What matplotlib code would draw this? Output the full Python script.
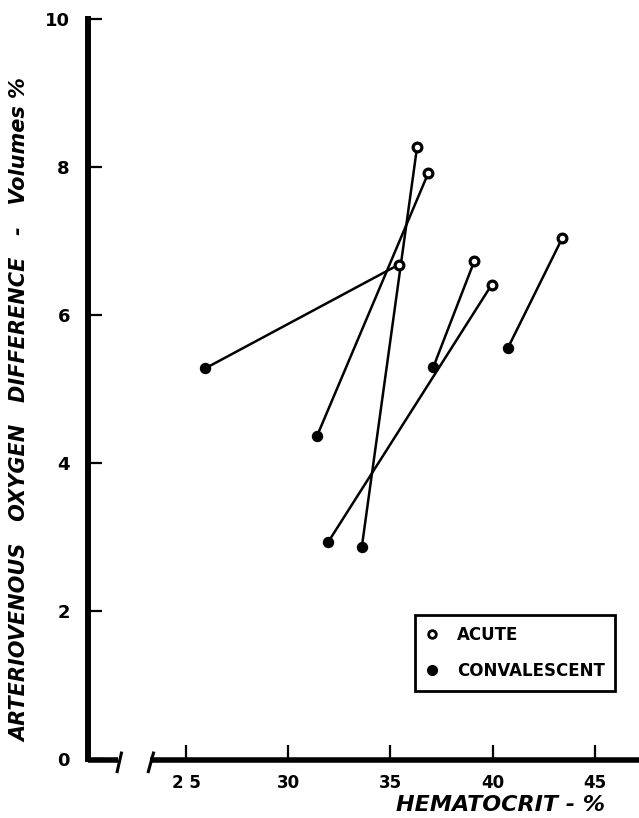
import matplotlib
matplotlib.use('Agg')
import matplotlib.pyplot as plt
from matplotlib.lines import Line2D

# --- datos (un paciente por posicion) ---
acute_hct = [36.3, 36.85, 35.4, 39.1, 39.95, 43.4]
acute_avo2 = [8.27, 7.92, 6.68, 6.73, 6.41, 7.04]
conv_hct = [33.6, 31.4, 25.95, 37.1, 31.95, 40.75]
conv_avo2 = [2.87, 4.36, 5.28, 5.30, 2.93, 5.56]

x_ticks = [25, 30, 35, 40, 45]
y_ticks = [0, 2, 4, 6, 8, 10]

plt.rcParams['font.family'] = ['DejaVu Sans']

fig = plt.figure(figsize=(6.39, 8.18), dpi=100)
ax = fig.add_axes([88 / 639, 59 / 818, 551 / 639, 740 / 818])

# lineas que unen agudo y convaleciente
for xa, ya, xc, yc in zip(acute_hct, acute_avo2, conv_hct, conv_avo2):
    ax.plot([xc, xa], [yc, ya], color='black', lw=1.8, zorder=2)

ax.plot(conv_hct, conv_avo2, 'o', color='black', ms=7.2, zorder=3,
        label='CONVALESCENT')
ax.plot(acute_hct, acute_avo2, 'o', mfc='white', mec='black', mew=2.3,
        ms=6.3, zorder=4, label='ACUTE')

ax.set_xlim(20.21, 47.15)
ax.set_ylim(0, 10)
ax.set_xticks(x_ticks)
ax.set_yticks(y_ticks)
ax.set_xticklabels(['2 5', '30', '35', '40', '45'])

for s in ['top', 'right', 'bottom']:
    ax.spines[s].set_visible(False)
ax.spines['left'].set_linewidth(4.3)
ax.spines['left'].set_capstyle('projecting')

ax.tick_params(direction='in', length=10, width=1.6, color='black')
ax.tick_params(axis='y', labelsize=13, pad=13)
ax.tick_params(axis='x', labelsize=12, pad=11)
for lab in ax.get_xticklabels() + ax.get_yticklabels():
    lab.set_fontweight('bold')

# eje x con corte
kw = dict(color='black', clip_on=False, solid_capstyle='butt', zorder=5)
ax.plot([20.21, 21.67], [-0.02, -0.02], lw=4, **kw)
ax.plot([21.62, 21.86], [-0.19, 0.10], lw=2.2, **kw)
ax.plot([23.14, 23.43], [-0.19, 0.10], lw=2.2, **kw)
ax.plot([23.24, 47.15], [-0.02, -0.02], lw=4, **kw)

# titulos de ejes
fig.text(500 / 639, 1 - 805 / 818, 'HEMATOCRIT - %', ha='center', va='center',
         fontsize=16, fontweight='bold', fontstyle='italic')
fig.text(20 / 639, 1 - 410 / 818,
         'ARTERIOVENOUS   OXYGEN   DIFFERENCE   -   Volumes %',
         rotation=90, ha='center', va='center',
         fontsize=15, fontweight='bold', fontstyle='italic')

# leyenda
handles = [
    Line2D([], [], marker='o', ls='none', mfc='white', mec='black', mew=2, ms=5.5),
    Line2D([], [], marker='o', ls='none', color='black', ms=7),
]
leg = ax.legend(handles, ['ACUTE', 'CONVALESCENT'], loc='upper left',
                bbox_to_anchor=(415 / 639, 1 - 615 / 818),
                bbox_transform=fig.transFigure, borderaxespad=0,
                frameon=True, fancybox=False, edgecolor='black', framealpha=1,
                prop={'weight': 'bold', 'size': 12}, handlelength=0.7,
                handletextpad=1.15, labelspacing=1.1, borderpad=0.65)
leg.get_frame().set_linewidth(2)

fig.savefig('out.png', dpi=100)
